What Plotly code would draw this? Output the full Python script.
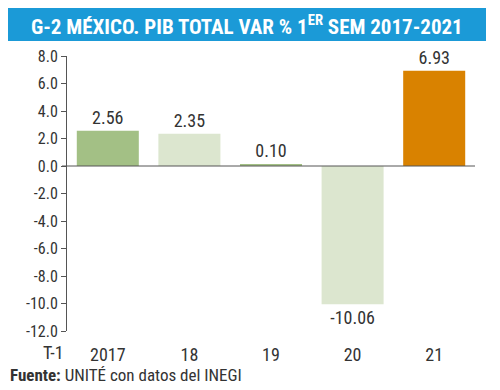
import plotly.graph_objects as go

categories = ["2017", "18", "19", "20", "21"]
values = [2.56, 2.35, 0.10, -10.06, 6.93]
labels = ["2.56", "2.35", "0.10", "-10.06", "6.93"]
colors = ["#a3c085", "#dce6cf", "#a3c085", "#dce6cf", "#d98200"]
yticks = [8, 6, 4, 2, 0, -2, -4, -6, -8, -10, -12]
ytick_text = ["%.1f" % v for v in yticks]

W, H = 500, 390
L, R, T, B = 67, 25, 56, 59
pw, ph = W - L - R, H - T - B

def px(x):
    return (x - L) / pw

def py(y):
    return (H - B - y) / ph

FONT = "Roboto Condensed, Roboto, sans-serif"
TXT = "#333333"

fig = go.Figure(go.Bar(
    x=categories, y=values, marker=dict(color=colors, line=dict(width=0)),
    width=0.76, text=labels, textposition="outside", cliponaxis=False,
    textfont=dict(family=FONT, size=18, color=TXT),
))

fig.update_layout(
    width=W, height=H, margin=dict(l=L, r=R, t=T, b=B),
    paper_bgcolor="white", plot_bgcolor="white", showlegend=False,
    font=dict(family=FONT, color=TXT),
    xaxis=dict(showgrid=False, zeroline=False, showline=False,
               ticks="outside", ticklen=7, tickcolor="rgba(0,0,0,0)",
               tickfont=dict(family=FONT, size=18, color=TXT)),
    yaxis=dict(range=[-12, 8], tickvals=yticks, ticktext=ytick_text,
               showgrid=False, zeroline=False, showline=True, linecolor="#555555",
               linewidth=1, ticks="outside", ticklen=5, tickcolor="#555555",
               tickfont=dict(family=FONT, size=16, color=TXT)),
    shapes=[
        dict(type="rect", xref="paper", yref="paper", x0=px(8), x1=px(486),
             y0=py(41), y1=py(8), fillcolor="#1b9ad7", line=dict(width=0), layer="below"),
        dict(type="line", xref="paper", yref="y", x0=px(62), x1=1.0, y0=0, y1=0,
             line=dict(color="#555555", width=1)),
    ],
    annotations=[
        dict(xref="paper", yref="paper", x=px(247), y=py(25), xanchor="center", yanchor="middle",
             showarrow=False,
             text="<b>G-2 MÉXICO. PIB TOTAL VAR % 1<sup>ER</sup> SEM 2017-2021</b>",
             font=dict(family=FONT, size=21, color="white")),
        dict(xref="paper", yref="paper", x=px(53), y=py(352), xanchor="center", yanchor="middle",
             showarrow=False, text="T-1", font=dict(family=FONT, size=18, color=TXT)),
        dict(xref="paper", yref="paper", x=px(8), y=py(375), xanchor="left", yanchor="middle",
             showarrow=False, text="<b>Fuente:</b> UNITÉ con datos del INEGI",
             font=dict(family=FONT, size=17, color=TXT)),
    ],
)

fig.write_html("out.html", config={"displayModeBar": False},
               post_script="document.body.style.margin='0';")
